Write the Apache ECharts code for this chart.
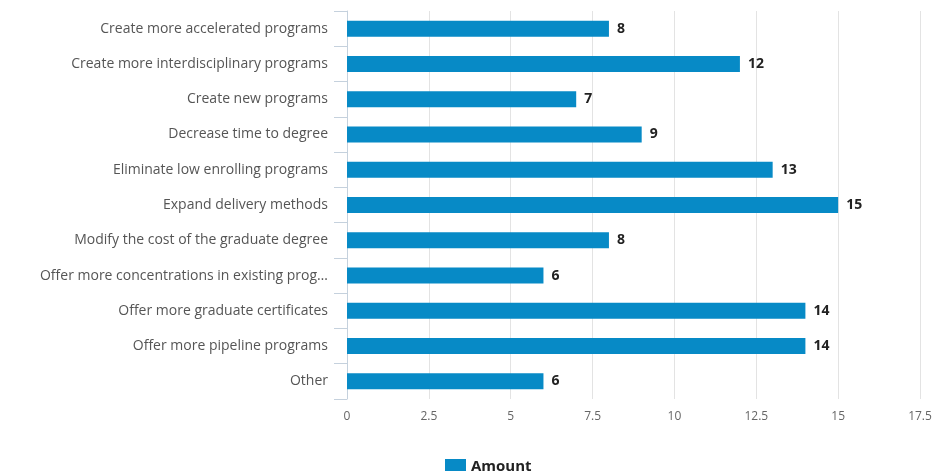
<!DOCTYPE html>
<html>
<head>
<meta charset="utf-8">
<script src="https://cdn.jsdelivr.net/npm/echarts@6/dist/echarts.min.js"></script>
<style>
    html, body { margin: 0; padding: 0; background: #fff; }
    #chart { width: 935px; height: 471px; }
</style>
</head>
<body>
<div id="chart"></div>
<script>
var categories = [
    'Create more accelerated programs',
    'Create more interdisciplinary programs',
    'Create new programs',
    'Decrease time to degree',
    'Eliminate low enrolling programs',
    'Expand delivery methods',
    'Modify the cost of the graduate degree',
    'Offer more concentrations in existing prog\u2026',
    'Offer more graduate certificates',
    'Offer more pipeline programs',
    'Other'
];
var amounts = [8, 12, 7, 9, 13, 15, 8, 6, 14, 14, 6];
var xTicks = { min: 0, max: 17.5, interval: 2.5 };

var chart = echarts.init(document.getElementById('chart'));

var fontFamily = '"Open Sans", sans-serif';

chart.setOption({
    animation: false,
    textStyle: { fontFamily: fontFamily },
    grid: { left: 347, right: 15, top: 11, bottom: 72 },
    legend: {
        top: 454,
        left: 440,
        itemWidth: 21,
        itemHeight: 16,
        itemGap: 6,
        icon: 'rect',
        textStyle: { fontSize: 15, fontWeight: 'bold', color: '#222', fontFamily: fontFamily },
        data: ['Amount']
    },
    xAxis: {
        type: 'value',
        min: xTicks.min,
        max: xTicks.max,
        interval: xTicks.interval,
        axisLine: { show: false },
        axisTick: { show: false },
        axisLabel: { color: '#666', fontSize: 12, margin: 12 },
        splitLine: { show: true, lineStyle: { color: '#e3e3e3' } }
    },
    yAxis: {
        type: 'category',
        inverse: true,
        data: categories,
        axisLine: { show: true, lineStyle: { color: '#c5d1dd' } },
        axisTick: { show: true, length: 13, lineStyle: { color: '#c5d1dd' } },
        axisLabel: { color: '#555', fontSize: 14, margin: 19 }
    },
    series: [{
        name: 'Amount',
        type: 'bar',
        data: amounts,
        barWidth: 16,
        itemStyle: { color: '#078ac6' },
        label: {
            show: true,
            position: 'right',
            distance: 8,
            color: '#222',
            fontWeight: 'bold',
            fontSize: 14
        }
    }]
});
</script>
</body>
</html>
